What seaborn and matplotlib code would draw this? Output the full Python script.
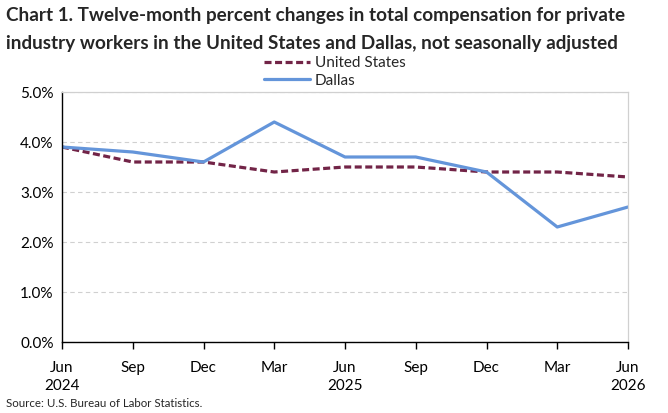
import pandas as pd
import seaborn as sns
import matplotlib.pyplot as plt
from matplotlib.ticker import FuncFormatter
from matplotlib.lines import Line2D

periods = ["Jun\n2024", "Sep", "Dec", "Mar", "Jun\n2025", "Sep", "Dec", "Mar", "Jun\n2026"]
us_values = [3.9, 3.6, 3.6, 3.4, 3.5, 3.5, 3.4, 3.4, 3.3]
dallas_values = [3.9, 3.8, 3.6, 4.4, 3.7, 3.7, 3.4, 2.3, 2.7]
series_names = ["United States", "Dallas"]
title_lines = [
    "Chart 1. Twelve-month percent changes in total compensation for private",
    "industry workers in the United States and Dallas, not seasonally adjusted",
]

df = pd.DataFrame({
    "pos": list(range(len(periods))) * 2,
    "value": us_values + dallas_values,
    "series": [series_names[0]] * len(periods) + [series_names[1]] * len(periods),
})

sns.set_style("white")
plt.rcParams["font.family"] = ["Lato", "DejaVu Sans"]

fig = plt.figure(figsize=(6.68, 4.13), dpi=100)
ax = fig.add_axes([62 / 668, 1 - 342 / 413, 566 / 668, 250 / 413])

sns.lineplot(
    data=df, x="pos", y="value", hue="series", style="series",
    palette={"United States": "#722447", "Dallas": "#6495DA"},
    dashes={"United States": (2.2, 1.1), "Dallas": ""},
    linewidth=2.3, ax=ax, legend=False,
)

ax.set_xlim(0, len(periods) - 1)
ax.set_ylim(0, 5)
ax.set_yticks([0, 1, 2, 3, 4, 5])
ax.yaxis.set_major_formatter(FuncFormatter(lambda v, p: f"{v:.1f}%"))
ax.set_xticks(range(len(periods)))
ax.set_xticklabels(periods)
ax.set_xlabel("")
ax.set_ylabel("")
ax.tick_params(axis="both", labelsize=11, colors="black")
ax.tick_params(axis="x", direction="out", length=5, width=1, color="black", pad=9, bottom=True)
ax.tick_params(axis="y", length=0, pad=6)
for lbl in ax.get_xticklabels():
    lbl.set_linespacing(1.35)
ax.grid(axis="y", color="#d0d0d0", linestyle=(0, (4, 3)), linewidth=0.8)
ax.set_axisbelow(True)
for side in ["top", "right"]:
    ax.spines[side].set_color("#d0d0d0")
    ax.spines[side].set_linewidth(0.9)
for side in ["left", "bottom"]:
    ax.spines[side].set_color("black")
    ax.spines[side].set_linewidth(1.0)

handles = [
    Line2D([], [], color="#722447", linewidth=2.3, dashes=(2.2, 1.1)),
    Line2D([], [], color="#6495DA", linewidth=2.3),
]
fig.legend(handles, series_names, loc="center", bbox_to_anchor=(335 / 668, 1 - 72 / 413),
           frameon=False, fontsize=11, handlelength=3.0, handletextpad=0.3,
           labelspacing=0.2, borderpad=0)

for i, line in enumerate(title_lines):
    fig.text(6 / 668, 1 - (16 + 27 * i) / 413, line,
             ha="left", va="center", fontsize=13.6, fontweight="bold")
fig.text(6 / 668, 1 - 409 / 413, "Source: U.S. Bureau of Labor Statistics.",
         ha="left", va="bottom", fontsize=8.3)

fig.savefig("out.png", dpi=100)
